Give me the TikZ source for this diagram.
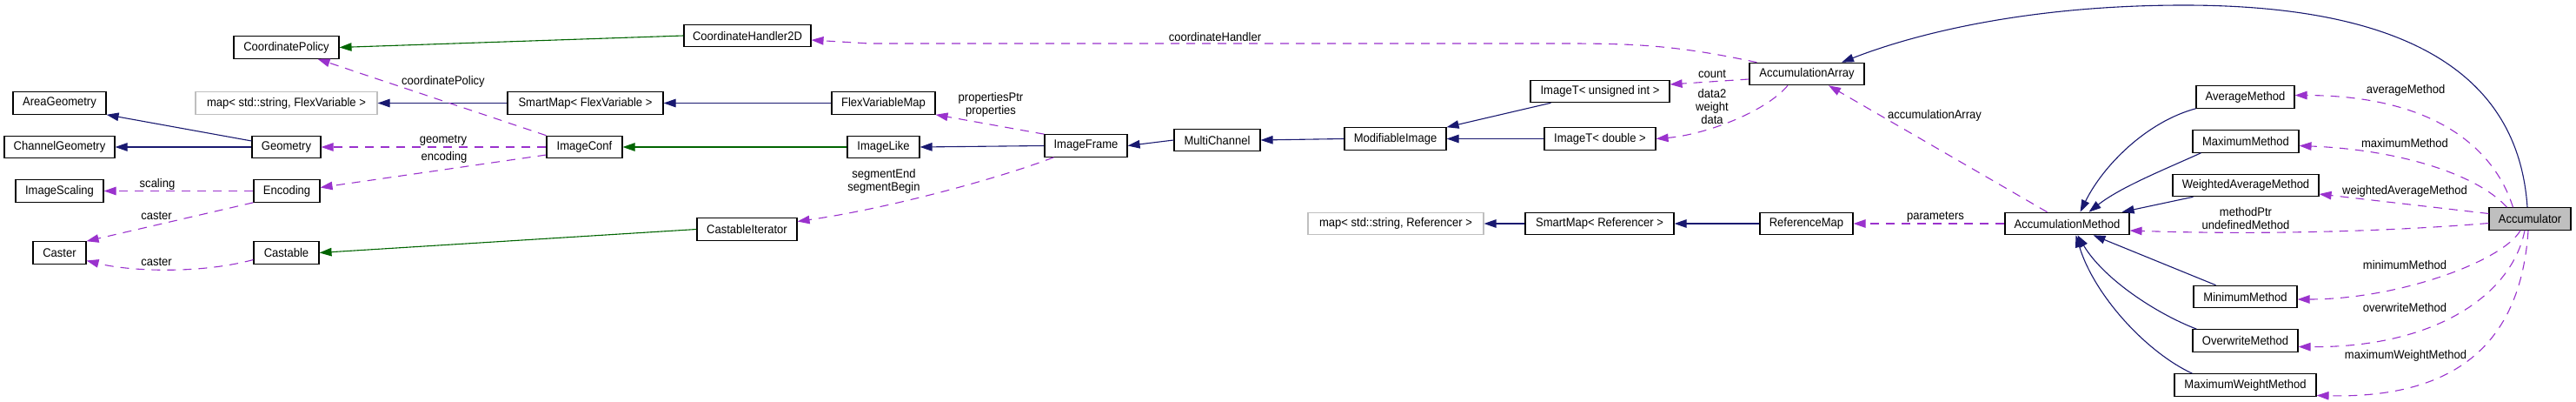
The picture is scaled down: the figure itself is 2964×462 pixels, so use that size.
\documentclass[tikz,border=0pt]{standalone}
\usepackage{fontspec}
\setmainfont{Liberation Sans}[FakeStretch=0.93]
\usetikzlibrary{arrows.meta}
\definecolor{InheritBlue}{RGB}{25,25,112}
\definecolor{ProtectGreen}{RGB}{0,100,0}
\definecolor{UsageOrchid}{RGB}{154,50,205}
\definecolor{MapGray}{RGB}{191,191,191}

\tikzset{
  cls/.style={draw, line width=1.1pt, minimum height=25.5pt, inner sep=0pt, font=\fontsize{14}{15}\selectfont},
  tmpl/.style={cls, draw=MapGray},
  lbl/.style={font=\fontsize{14}{15}\selectfont, inner sep=0pt, align=center},
  inh/.style={InheritBlue, line width=1.1pt, -{Triangle[length=14pt,width=9.5pt]}},
  prot/.style={inh, ProtectGreen},
  uses/.style={inh, UsageOrchid, dash pattern=on 10pt off 8pt},
}

\begin{document}
\begin{tikzpicture}[x=1pt, y=-1pt]
  \useasboundingbox (0,0) rectangle (2964,462);

  % Classes
  \node[cls, minimum width=121pt] (CoordinatePolicy) at (329.5,54.5) {CoordinatePolicy};
  \node[cls, minimum width=107pt] (AreaGeometry) at (68.5,118.5) {AreaGeometry};
  \node[tmpl, minimum width=209pt] (MapFlex) at (329.5,118.5) {map< std::string, FlexVariable >};
  \node[cls, minimum width=179pt] (SmartMapFlex) at (673.5,118.5) {SmartMap< FlexVariable >};
  \node[cls, minimum width=127pt] (ChannelGeometry) at (68.5,169) {ChannelGeometry};
  \node[cls, minimum width=79pt] (Geometry) at (329.5,169) {Geometry};
  \node[cls, minimum width=87pt] (ImageConf) at (672.5,169) {ImageConf};
  \node[cls, minimum width=101pt] (ImageScaling) at (68.5,219.5) {ImageScaling};
  \node[cls, minimum width=76pt] (Encoding) at (330,219.5) {Encoding};
  \node[cls, minimum width=61pt] (Caster) at (68.5,290.5) {Caster};
  \node[cls, minimum width=75pt] (Castable) at (329.5,290.5) {Castable};
  \node[cls, minimum width=146pt] (CoordinateHandler) at (860,41) {CoordinateHandler2D};
  \node[cls, minimum width=119pt] (FlexVariableMap) at (1016.5,118.5) {FlexVariableMap};
  \node[cls, minimum width=83pt] (ImageLike) at (1016.5,169) {ImageLike};
  \node[cls, minimum width=115pt] (CastableIterator) at (859.5,263.5) {CastableIterator};
  \node[cls, minimum width=95pt] (ImageFrame) at (1249.5,167.5) {ImageFrame};
  \node[cls, minimum width=99pt] (MultiChannel) at (1400.5,161) {MultiChannel};
  \node[cls, minimum width=117pt] (ModifiableImage) at (1605.5,159.5) {ModifiableImage};
  \node[cls, minimum width=160pt] (ImageTuint) at (1841,105) {ImageT< unsigned int >};
  \node[cls, minimum width=128pt] (ImageTdouble) at (1841,159.5) {ImageT< double >};
  \node[tmpl, minimum width=202pt] (MapRef) at (1606,257) {map< std::string, Referencer >};
  \node[cls, minimum width=171pt] (SmartMapRef) at (1840.5,257) {SmartMap< Referencer >};
  \node[cls, minimum width=132pt] (AccumulationArray) at (2079,85) {AccumulationArray};
  \node[cls, minimum width=107pt] (ReferenceMap) at (2078.5,257) {ReferenceMap};
  \node[cls, minimum width=143pt] (AccumulationMethod) at (2378.5,257) {AccumulationMethod};
  \node[cls, minimum width=113pt] (AverageMethod) at (2583.5,111.5) {AverageMethod};
  \node[cls, minimum width=122pt] (MaximumMethod) at (2584,162.5) {MaximumMethod};
  \node[cls, minimum width=168pt] (WeightedAverageMethod) at (2584,213) {WeightedAverageMethod};
  \node[cls, minimum width=119pt] (MinimumMethod) at (2583.5,341) {MinimumMethod};
  \node[cls, minimum width=121pt] (OverwriteMethod) at (2583.5,391.5) {OverwriteMethod};
  \node[cls, minimum width=163pt] (MaximumWeightMethod) at (2583.5,442.5) {MaximumWeightMethod};
  \node[cls, minimum width=94pt, fill=MapGray] (Accumulator) at (2911,251.5) {Accumulator};

  % Public inheritance
  \draw[inh] ([xshift=-3pt]Accumulator.north) .. controls (2900,120) and (2820,6) .. (2513,6)
    .. controls (2330,6) and (2200,40) .. ([xshift=40pt]AccumulationArray.north);
  \draw[inh] (AverageMethod.south west) .. controls (2470,140) and (2420,190) .. ([xshift=15pt]AccumulationMethod.north);
  \draw[inh] ([xshift=10pt]MaximumMethod.south west) .. controls (2490,195) and (2440,215) .. ([xshift=25pt]AccumulationMethod.north);
  \draw[inh] ([xshift=24pt]WeightedAverageMethod.south west) -- ([xshift=-9pt]AccumulationMethod.north east);
  \draw[inh] ([xshift=-34pt]MinimumMethod.north) -- ([xshift=30pt]AccumulationMethod.south);
  \draw[inh] ([xshift=5pt]OverwriteMethod.north west) .. controls (2480,360) and (2420,320) .. ([xshift=12pt]AccumulationMethod.south);
  \draw[inh] ([xshift=21pt]MaximumWeightMethod.north west) .. controls (2470,405) and (2410,340) .. ([xshift=10pt]AccumulationMethod.south);
  \draw[inh] ([xshift=24pt]ImageTuint.south west) -- (ModifiableImage.north east);
  \draw[inh] (ImageTdouble.west) -- (ModifiableImage.east);
  \draw[inh] (ModifiableImage.west) -- (MultiChannel.east);
  \draw[inh] (MultiChannel.west) -- (ImageFrame.east);
  \draw[inh] (ImageFrame.west) -- (ImageLike.east);
  \draw[inh] (FlexVariableMap.west) -- (SmartMapFlex.east);
  \draw[inh] (SmartMapFlex.west) -- (MapFlex.east);
  \draw[inh] ([yshift=7pt]Geometry.west) -- (AreaGeometry.south east);
  \draw[inh] (Geometry.west) -- (ChannelGeometry.east);
  \draw[inh] (ReferenceMap.west) -- (SmartMapRef.east);
  \draw[inh] (SmartMapRef.west) -- (MapRef.east);

  % Protected inheritance
  \draw[prot] (CoordinateHandler.west) -- (CoordinatePolicy.east);
  \draw[prot] (ImageLike.west) -- (ImageConf.east);
  \draw[prot] (CastableIterator.west) -- (Castable.east);

  % Usage
  \draw[uses] ([xshift=9pt]AccumulationArray.north west) .. controls (1930,52) and (1880,50) .. (1800,50)
    -- (1000,50) -- ([yshift=-5pt]CoordinateHandler.east);
  \draw[uses] ([yshift=-6pt]AccumulationArray.west) -- ([yshift=8pt]ImageTuint.east);
  \draw[uses] ([xshift=-22pt]AccumulationArray.south) .. controls (2030,130) and (1960,155) .. (ImageTdouble.east);
  \draw[uses] ([xshift=-23pt]AccumulationMethod.north) -- ([xshift=25pt]AccumulationArray.south);
  \draw[uses] (AccumulationMethod.west) -- (ReferenceMap.east);
  \draw[uses] ([xshift=28pt]Accumulator.north west) .. controls (2870,170) and (2800,110) .. ([yshift=2pt]AverageMethod.east);
  \draw[uses] ([xshift=21pt]Accumulator.north west) .. controls (2850,200) and (2760,172) .. ([yshift=-5pt]MaximumMethod.east);
  \draw[uses] ([yshift=6pt]Accumulator.west) -- ([yshift=-10pt]WeightedAverageMethod.east);
  \draw[uses] ([yshift=-5pt]Accumulator.west) .. controls (2750,266) and (2600,270) .. ([yshift=-8pt]AccumulationMethod.east);
  \draw[uses] ([xshift=-11pt]Accumulator.south) .. controls (2880,300) and (2760,344) .. ([yshift=-3pt]MinimumMethod.east);
  \draw[uses] ([xshift=-6pt]Accumulator.south) .. controls (2890,340) and (2800,400) .. ([yshift=-7pt]OverwriteMethod.east);
  \draw[uses] ([xshift=-2pt]Accumulator.south) .. controls (2900,400) and (2820,458) .. ([yshift=-12pt]MaximumWeightMethod.east);
  \draw[uses] (ImageFrame.north west) -- (FlexVariableMap.south east);
  \draw[uses] ([xshift=11pt]ImageFrame.south west) .. controls (1150,205) and (1020,240) .. ([yshift=9pt]CastableIterator.east);
  \draw[uses] (ImageConf.north west) -- ([xshift=36pt]CoordinatePolicy.south);
  \draw[uses] (ImageConf.west) -- (Geometry.east);
  \draw[uses] ([yshift=-9pt]ImageConf.west) -- ([yshift=4pt]Encoding.east);
  \draw[uses] (Encoding.west) -- (ImageScaling.east);
  \draw[uses] (Encoding.south west) -- (Caster.north east);
  \draw[uses] ([yshift=-8pt]Castable.west) .. controls (230,315) and (150,312) .. ([yshift=-9pt]Caster.east);

  % Member names
  \node[lbl] (lCoordinatePolicy) at (510,94) {coordinatePolicy};
  \node[lbl] (lGeometry) at (510,161) {geometry};
  \node[lbl] (lEncoding) at (511,181) {encoding};
  \node[lbl] (lScaling) at (181,212) {scaling};
  \node[lbl] (lCasterEnc) at (180,248) {caster};
  \node[lbl] (lCasterCast) at (180,301) {caster};
  \node[lbl] (lCoordinateHandler) at (1398,42) {coordinateHandler};
  \node[lbl] (lProperties) at (1140,120.5) {propertiesPtr\\properties};
  \node[lbl] (lSegment) at (1017,208.5) {segmentEnd\\segmentBegin};
  \node[lbl] (lCount) at (1970,85) {count};
  \node[lbl] (lData) at (1970,122) {data2\\weight\\data};
  \node[lbl] (lAccumulationArray) at (2226,133) {accumulationArray};
  \node[lbl] (lParameters) at (2227,249) {parameters};
  \node[lbl] (lAverage) at (2768,104) {averageMethod};
  \node[lbl] (lMaximum) at (2767,164) {maximumMethod};
  \node[lbl] (lWeighted) at (2767,220) {weightedAverageMethod};
  \node[lbl] (lMethodPtr) at (2584,251) {methodPtr\\undefinedMethod};
  \node[lbl] (lMinimum) at (2767,304) {minimumMethod};
  \node[lbl] (lOverwrite) at (2767,353) {overwriteMethod};
  \node[lbl] (lMaximumWeight) at (2768,409) {maximumWeightMethod};
\end{tikzpicture}
\end{document}
